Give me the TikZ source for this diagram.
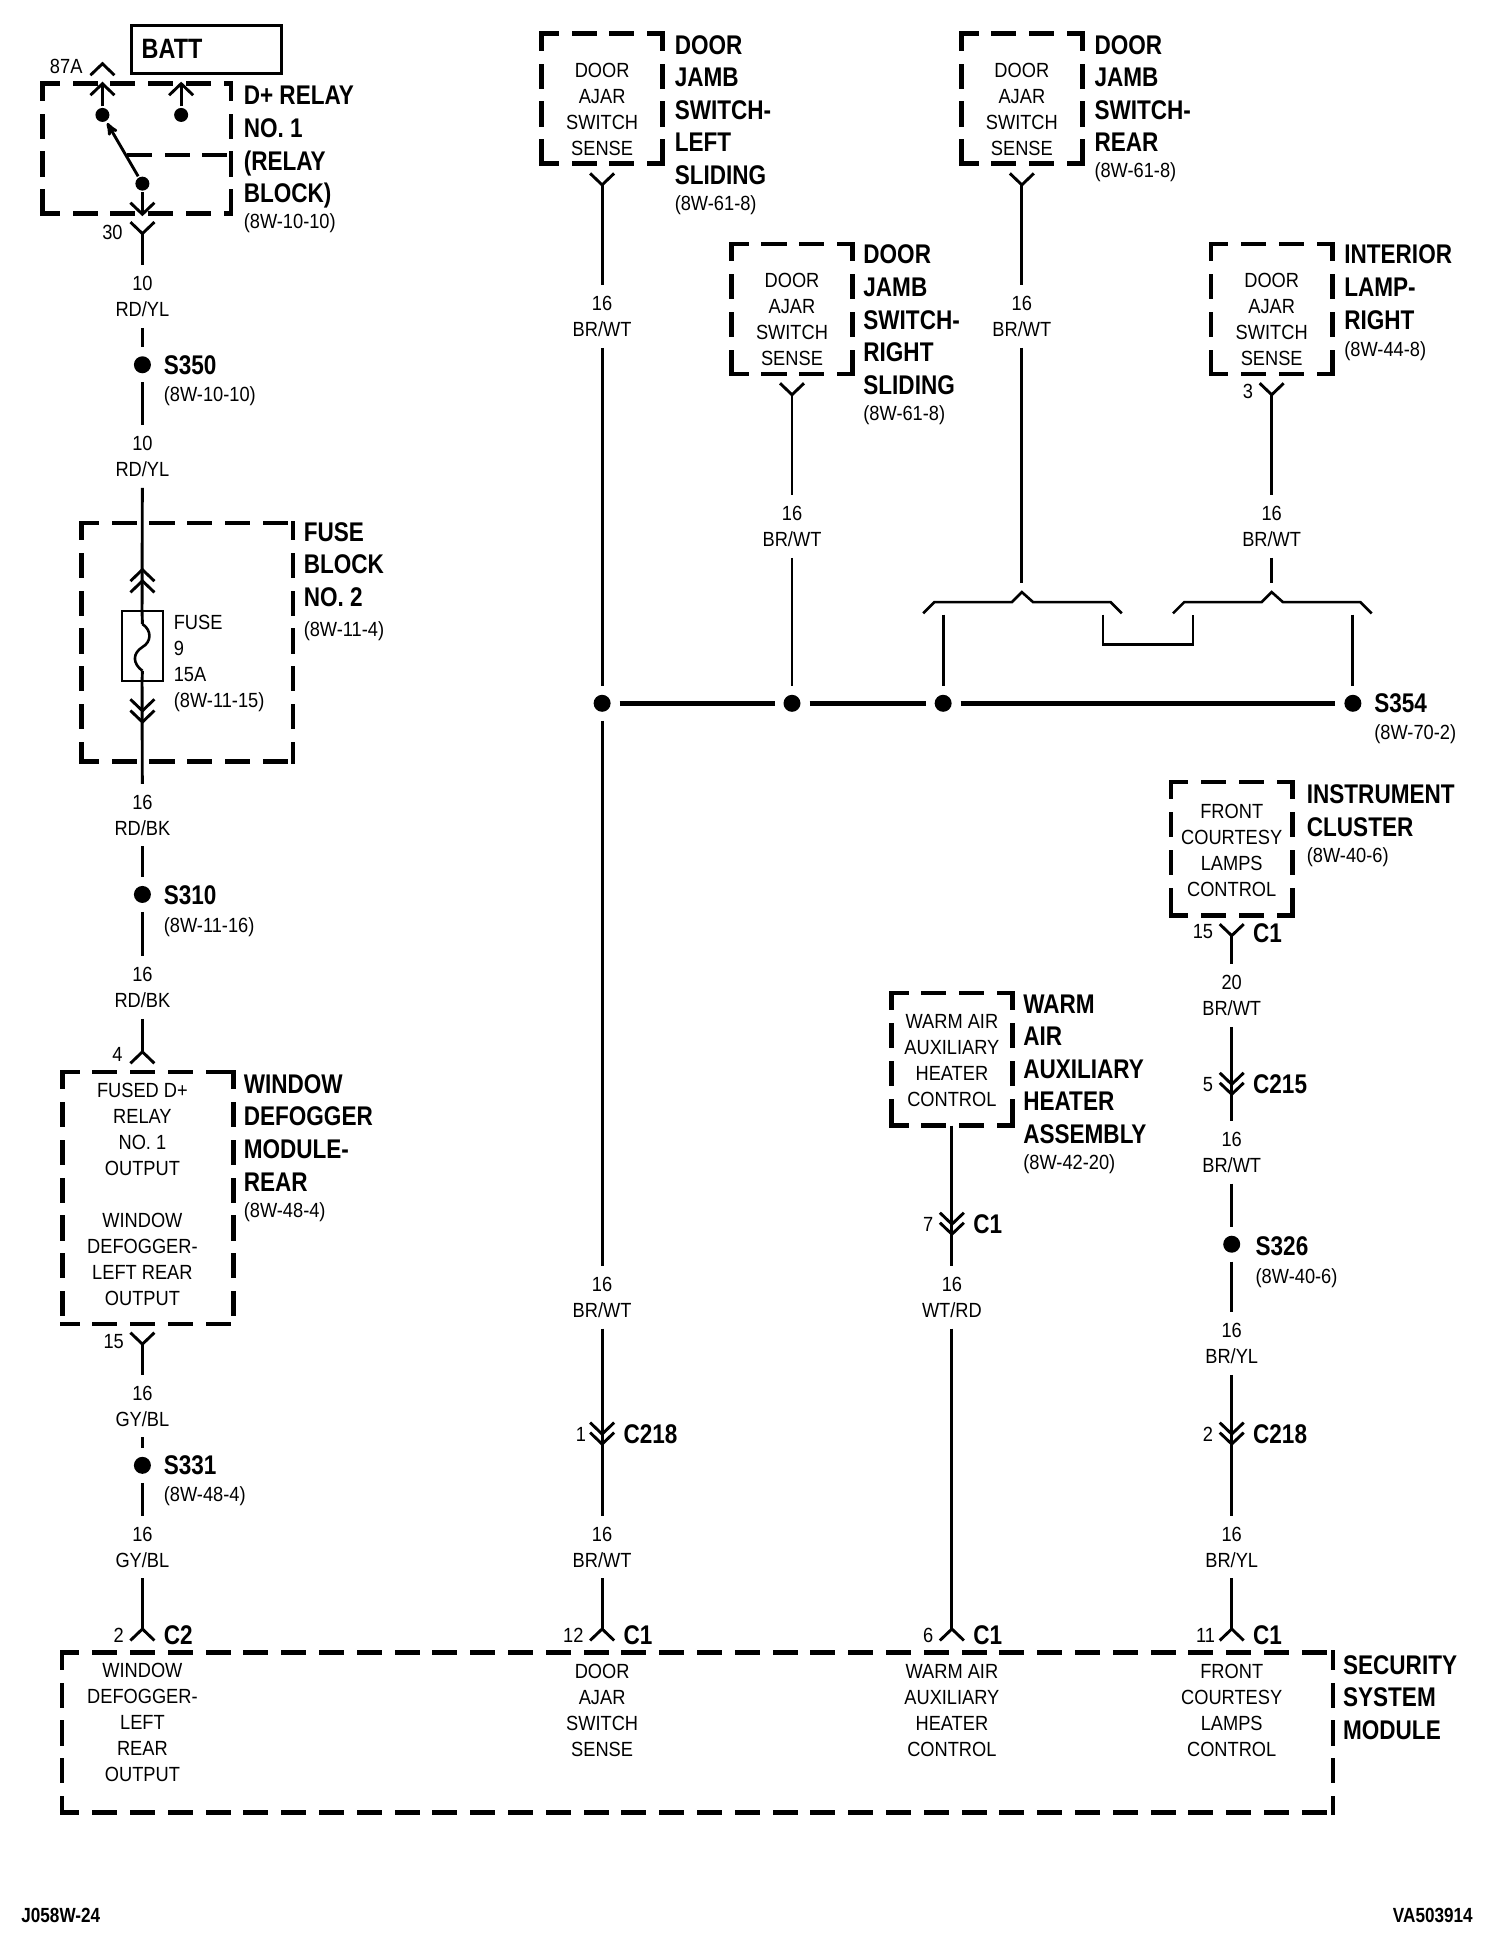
\documentclass[tikz,border=0pt]{standalone}
\usepackage{fontspec}
\setmainfont{Liberation Sans}[FakeStretch=0.835]
\newfontfamily\wirefont{Liberation Sans}[FakeStretch=0.89]
\usetikzlibrary{arrows}

\tikzset{
  chevron up/.pic={\draw (-9.6,9.2) -- (0,0) -- (9.6,9.2);},
  chevron down/.pic={\draw (-9.6,-9.2) -- (0,0) -- (9.6,-9.2);}
}

\begin{document}
\begin{tikzpicture}[x=1.2492pt,y=-1.2492pt,line width=2.9pt,line join=miter,
  small text/.style={inner sep=0pt,align=center,font=\wirefont\fontsize{20.5}{26}\selectfont},
  wire label/.style={small text,outer sep=11pt},
  pin label/.style={small text},
  ref label/.style={small text,anchor=west},
  head label/.style={inner sep=0pt,align=left,anchor=north west,font=\fontsize{27}{32.6}\selectfont\bfseries},
  tag label/.style={inner sep=0pt,anchor=west,font=\fontsize{27}{30}\selectfont\bfseries},
  side dash/.style={line width=4.6pt,line cap=rect,dash pattern=on 20.5pt off 17.3pt,dash phase=5.5pt},
  dash box/.style={inner sep=0pt,outer sep=0pt,rectangle,append after command={
    (\tikzlastnode.north west) edge[side dash] (\tikzlastnode.north east)
    (\tikzlastnode.north west) edge[side dash] (\tikzlastnode.south west)
    (\tikzlastnode.north east) edge[side dash] (\tikzlastnode.south east)
    (\tikzlastnode.south west) edge[side dash] (\tikzlastnode.south east)}},
  switch box/.style={dash box,minimum width=121.2pt,minimum height=130pt},
  splice/.style={circle,fill=black,inner sep=0pt,minimum size=17pt,outer sep=9pt},
  contact/.style={circle,fill=black,inner sep=0pt,minimum size=14pt}]

 \path[use as bounding box,fill=white] (0,0) rectangle (1204,1567.4);

 % relay
 \node[draw,line width=3.4pt,text width=130pt,inner xsep=10pt,minimum height=48pt,align=left,
   font=\fontsize{28}{30}\selectfont\bfseries] (batt) at (165.5,39.5) {BATT};
 \node[dash box,minimum width=188.5pt,minimum height=130pt] (relay) at (109.5,119) {};
 \node[contact] (ra) at (82,92) {};
 \node[contact] (rb) at (145,92) {};
 \node[contact] (rc) at (114,147) {};
 \coordinate (ra1) at (82,67);
 \coordinate (rb1) at (145,67);
 \coordinate (rc1) at (114,171.5);
 \coordinate (rd1) at (102,124);
 \coordinate (rd2) at (185,124);
 \pic at (82,51) {chevron up};
 \pic at (ra1) {chevron up};
 \pic at (rb1) {chevron up};
 \pic at (rc1) {chevron down};
 \pic at (114,187) {chevron down};
 \path (ra) edge (ra1)
       (rb) edge (rb1)
       (rc) edge (rc1)
       (rc) edge [-stealth',shorten >=1pt] (ra);
 \path (rd1) edge [line width=3.4pt,dash pattern=on 25pt off 12.5pt] (rd2);
 \node[pin label] (n87a) at (53,53) {87A};
 \node[pin label] (n30) at (90,186) {30};
 \node[head label] (relayt) at (194,68) {D+ RELAY\\NO. 1\\(RELAY\\BLOCK)};
 \node[ref label] (relayr) at (194,179) {(8W-10-10)};

 % left column
 \coordinate (c30) at (114,187);
 \node[wire label] (w1) at (114,237.5) {10\\RD/YL};
 \node[splice] (s350) at (114,292) {};
 \node[tag label] (s350t) at (130,292) {S350};
 \node[ref label] (s350r) at (130,317) {(8W-10-10)};
 \node[wire label] (w2) at (114,365.5) {10\\RD/YL};
 \node[dash box,minimum width=211.5pt,minimum height=238.5pt] (fuseblk) at (150,514) {};
 \node[draw,line width=2pt,inner sep=0pt,minimum width=41pt,minimum height=70pt] (fuse) at (113.7,517) {};
 \coordinate (f1) at (114,499.5);
 \coordinate (f2) at (114,537);
 \draw[line width=2.6pt] (f1) .. controls (122,505) and (121,514) .. (114,518)
        .. controls (106,523) and (106,531) .. (f2);
 \pic at (114,456) {chevron up};
 \pic at (114,465) {chevron up};
 \pic at (114,569) {chevron down};
 \pic at (114,578) {chevron down};
 \node[small text,anchor=north west,align=left] (fuset) at (138,491.5) {FUSE\\9\\15A\\(8W-11-15)};
 \node[head label] (fuseh) at (242,417) {FUSE\\BLOCK\\NO. 2};
 \node[ref label] (fuser) at (242,505) {(8W-11-4)};
 \node[wire label] (w3) at (114,652.5) {16\\RD/BK};
 \node[splice] (s310) at (114,716) {};
 \node[tag label] (s310t) at (130,717) {S310};
 \node[ref label] (s310r) at (130,742) {(8W-11-16)};
 \node[wire label] (w4) at (114,790.5) {16\\RD/BK};
 \coordinate (c4) at (114,842);
 \pic at (c4) {chevron up};
 \node[pin label] (n4) at (94,844) {4};
 \node[dash box,minimum width=171.5pt,minimum height=252pt] (winbox) at (118.5,959) {};
 \node[small text] (wint) at (114,956.5) {FUSED D+\\RELAY\\NO. 1\\OUTPUT\\ \\WINDOW\\DEFOGGER-\\LEFT REAR\\OUTPUT};
 \node[head label] (winh) at (194,859) {WINDOW\\DEFOGGER\\MODULE-\\REAR};
 \node[ref label] (winr) at (194,970) {(8W-48-4)};
 \coordinate (c15) at (114,1076);
 \pic at (c15) {chevron down};
 \node[pin label] (n15) at (91,1074) {15};
 \node[wire label] (w5) at (114,1125.5) {16\\GY/BL};
 \node[splice] (s331) at (114,1173) {};
 \node[tag label] (s331t) at (130,1173) {S331};
 \node[ref label] (s331r) at (130,1198) {(8W-48-4)};
 \node[wire label] (w6) at (114,1238.5) {16\\GY/BL};
 \coordinate (c2) at (114,1304);
 \pic at (c2) {chevron up};
 \node[pin label] (n2) at (95,1309) {2};
 \node[tag label] (c2t) at (130,1309) {C2};

 \path (c30) edge (w1)
       (w1) edge (s350)
       (s350) edge (w2)
       (w2) edge (fuse.north)
       (fuse.north) edge (f1)
       (f2) edge (fuse.south)
       (fuse.south) edge (w3)
       (w3) edge (s310)
       (s310) edge (w4)
       (w4) edge (c4)
       (c15) edge (w5)
       (w5) edge (s331)
       (s331) edge (w6)
       (w6) edge (c2);

 % door switches
 \node[switch box] (sw1) at (482,79) {};
 \node[small text] (sw1t) at (482,88) {DOOR\\AJAR\\SWITCH\\SENSE};
 \node[head label] (sw1h) at (539,27) {DOOR\\JAMB\\SWITCH-\\LEFT\\SLIDING};
 \node[ref label] (sw1r) at (539,164) {(8W-61-8)};
 \coordinate (p1) at (482,148);
 \pic at (p1) {chevron down};
 \node[wire label] (w7) at (482,253.5) {16\\BR/WT};
 \node[splice] (d1) at (482,563) {};
 \node[wire label] (w8) at (482,1038.5) {16\\BR/WT};
 \coordinate (c218a) at (482,1156);
 \pic at (482,1148) {chevron down};
 \pic at (c218a) {chevron down};
 \node[pin label] (n1) at (465,1148) {1};
 \node[tag label] (c218t1) at (498,1148) {C218};
 \node[wire label] (w9) at (482,1238.5) {16\\BR/WT};
 \coordinate (c12) at (482,1304);
 \pic at (c12) {chevron up};
 \node[pin label] (n12) at (459,1309) {12};
 \node[tag label] (c1t1) at (498,1309) {C1};

 \node[switch box] (sw2) at (634,247.5) {};
 \node[small text] (sw2t) at (634,256) {DOOR\\AJAR\\SWITCH\\SENSE};
 \node[head label] (sw2h) at (690,195) {DOOR\\JAMB\\SWITCH-\\RIGHT\\SLIDING};
 \node[ref label] (sw2r) at (690,332) {(8W-61-8)};
 \coordinate (p2) at (634,316);
 \pic at (p2) {chevron down};
 \node[wire label] (w10) at (634,421.5) {16\\BR/WT};
 \node[splice] (d2) at (634,563) {};

 \node[switch box] (sw3) at (818,79) {};
 \node[small text] (sw3t) at (818,88) {DOOR\\AJAR\\SWITCH\\SENSE};
 \node[head label] (sw3h) at (875,27) {DOOR\\JAMB\\SWITCH-\\REAR};
 \node[ref label] (sw3r) at (875,138) {(8W-61-8)};
 \coordinate (p3) at (818,148);
 \pic at (p3) {chevron down};
 \node[wire label] (w11) at (818,253.5) {16\\BR/WT};
 \coordinate (b1) at (818,467);

 \node[switch box] (sw4) at (1018,247.5) {};
 \node[small text] (sw4t) at (1018,256) {DOOR\\AJAR\\SWITCH\\SENSE};
 \node[head label] (sw4h) at (1075,195) {INTERIOR\\LAMP-\\RIGHT};
 \node[ref label] (sw4r) at (1075,281) {(8W-44-8)};
 \coordinate (p4) at (1018,316);
 \pic at (p4) {chevron down};
 \node[pin label] (n3) at (999,313) {3};
 \node[wire label] (w12) at (1018,421.5) {16\\BR/WT};
 \coordinate (b2) at (1018,467);

 % connector brackets and S354
 \draw[line width=2.6pt] (739,491) -- (748,482) -- (810,482) -- (818,474) -- (827,482) -- (889,482) -- (898,491);
 \draw[line width=2.6pt] (939,491) -- (948,482) -- (1010,482) -- (1018,474) -- (1027,482) -- (1089,482) -- (1098,491);
 \coordinate (j1) at (883,492);
 \coordinate (j2) at (883,516);
 \coordinate (j3) at (955,516);
 \coordinate (j4) at (955,492);
 \draw[line width=2.6pt] (j1) -- (j2) -- (j3) -- (j4);
 \coordinate (b3) at (755,492);
 \coordinate (b4) at (1083,492);
 \node[splice] (d3) at (755,563) {};
 \node[splice] (s354) at (1083,563) {};
 \node[tag label] (s354t) at (1099,563) {S354};
 \node[ref label] (s354r) at (1099,588) {(8W-70-2)};

 \path (p1) edge (w7)
       (w7) edge (d1)
       (d1) edge (w8)
       (w8) edge (c218a)
       (c218a) edge (w9)
       (w9) edge (c12)
       (p2) edge (w10)
       (w10) edge (d2)
       (p3) edge (w11)
       (w11) edge (b1)
       (p4) edge (w12)
       (w12) edge (b2)
       (b3) edge (d3)
       (b4) edge (s354);
 \path[line width=5.2pt]
       (d1) edge (d2)
       (d2) edge (d3)
       (d3) edge (s354);

 % instrument cluster
 \node[dash box,minimum width=121.2pt,minimum height=133.5pt] (clu) at (986,679.5) {};
 \node[small text] (clut) at (986,680.5) {FRONT\\COURTESY\\LAMPS\\CONTROL};
 \node[head label] (cluh) at (1045,627) {INSTRUMENT\\CLUSTER};
 \node[ref label] (clur) at (1045,686) {(8W-40-6)};
 \coordinate (p5) at (986,749);
 \pic at (p5) {chevron down};
 \node[pin label] (n15b) at (963,746) {15};
 \node[tag label] (c1t2) at (1002,747) {C1};
 \node[wire label] (w13) at (986,797) {20\\BR/WT};
 \coordinate (c215) at (986,876);
 \pic at (986,868) {chevron down};
 \pic at (c215) {chevron down};
 \node[pin label] (n5) at (967,868) {5};
 \node[tag label] (c215t) at (1002,868) {C215};
 \node[wire label] (w14) at (986,922.5) {16\\BR/WT};
 \node[splice] (s326) at (986,996) {};
 \node[tag label] (s326t) at (1004,998) {S326};
 \node[ref label] (s326r) at (1004,1023) {(8W-40-6)};
 \node[wire label] (w15) at (986,1075.5) {16\\BR/YL};
 \coordinate (c218b) at (986,1156);
 \pic at (986,1148) {chevron down};
 \pic at (c218b) {chevron down};
 \node[pin label] (n2b) at (967,1148) {2};
 \node[tag label] (c218t2) at (1002,1148) {C218};
 \node[wire label] (w16) at (986,1238.5) {16\\BR/YL};
 \coordinate (c11) at (986,1304);
 \pic at (c11) {chevron up};
 \node[pin label] (n11) at (965,1309) {11};
 \node[tag label] (c1t3) at (1002,1309) {C1};

 % warm air heater
 \node[dash box,minimum width=121.2pt,minimum height=132.5pt] (heat) at (762,848) {};
 \node[small text] (heatt) at (762,849) {WARM AIR\\AUXILIARY\\HEATER\\CONTROL};
 \node[head label] (heath) at (818,795) {WARM\\AIR\\AUXILIARY\\HEATER\\ASSEMBLY};
 \node[ref label] (heatr) at (818,932) {(8W-42-20)};
 \coordinate (c7) at (762,988);
 \pic at (762,980) {chevron down};
 \pic at (c7) {chevron down};
 \node[pin label] (n7) at (743,980) {7};
 \node[tag label] (c1t4) at (778,980) {C1};
 \node[wire label] (w17) at (762,1038.5) {16\\WT/RD};
 \coordinate (c6) at (762,1304);
 \pic at (c6) {chevron up};
 \node[pin label] (n6) at (743,1309) {6};
 \node[tag label] (c1t5) at (778,1309) {C1};

 \path (p5) edge (w13)
       (w13) edge (c215)
       (c215) edge (w14)
       (w14) edge (s326)
       (s326) edge (w15)
       (w15) edge (c218b)
       (c218b) edge (w16)
       (w16) edge (c11)
       (heat.south) edge (c7)
       (c7) edge (w17)
       (w17) edge (c6);

 % security module
 \node[dash box,minimum width=1271pt,minimum height=160pt] (mod) at (558.5,1387) {};
 \node[small text] (modt1) at (114,1379) {WINDOW\\DEFOGGER-\\LEFT\\REAR\\OUTPUT};
 \node[small text] (modt2) at (482,1369) {DOOR\\AJAR\\SWITCH\\SENSE};
 \node[small text] (modt3) at (762,1369) {WARM AIR\\AUXILIARY\\HEATER\\CONTROL};
 \node[small text] (modt4) at (986,1369) {FRONT\\COURTESY\\LAMPS\\CONTROL};
 \node[head label] (modh) at (1074,1324) {SECURITY\\SYSTEM\\MODULE};

 \node[tag label,font=\fontsize{20.5}{24}\selectfont\bfseries] (code1) at (16,1533) {J058W-24};
 \node[tag label,font=\fontsize{20.5}{24}\selectfont\bfseries,anchor=east] (code2) at (1180,1533) {VA503914};

\end{tikzpicture}
\end{document}
